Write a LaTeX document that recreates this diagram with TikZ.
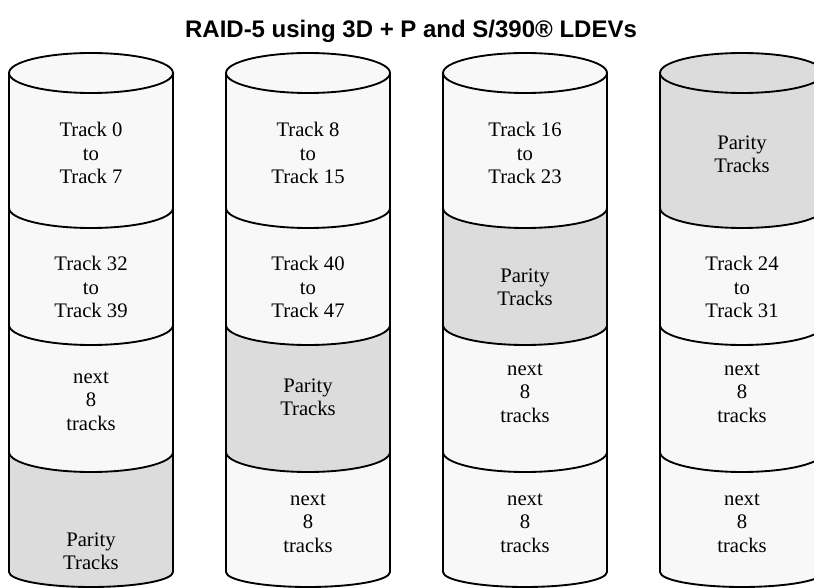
\documentclass[tikz,border=0pt]{standalone}
\usepackage{fontspec}
\setmainfont{Liberation Serif}
\newfontfamily\trackfont{Liberation Serif}
\newfontfamily\titlefont{Liberation Sans}
\usetikzlibrary{positioning}
\definecolor{diskWhite}{RGB}{248, 248, 248}
\definecolor{diskGray}{RGB}{220, 220, 220}
\tikzset{
  diskline/.style={line width=1.4pt, line join=round},
  tracklabel/.style={align=center, inner sep=0pt, font=\trackfont\fontsize{15.5}{17.5}\selectfont},
}

\begin{document}
\begin{tikzpicture}[x=0.75pt, y=-0.75pt]
  \useasboundingbox (0,0) rectangle (814,588);
  \clip (0,0) rectangle (814,588);

  \node[font=\titlefont\bfseries\fontsize{18}{21}\selectfont] (title) at (411,31) {RAID-5 using 3D + P and S/390® LDEVs};

  % the four disks, one colour for each of the four parts
  \foreach \cx/\ca/\cb/\cc/\cd in {91/diskWhite/diskWhite/diskWhite/diskGray,
      308/diskWhite/diskWhite/diskGray/diskWhite,
      525/diskWhite/diskGray/diskWhite/diskWhite,
      742/diskGray/diskWhite/diskWhite/diskWhite} {
    \fill[\ca] (\cx-82,73) arc[start angle=180, end angle=360, x radius=82, y radius=20]
      -- (\cx+82,208) arc[start angle=0, end angle=180, x radius=82, y radius=20] -- cycle;
    \fill[\cb] (\cx-82,208) arc[start angle=180, end angle=0, x radius=82, y radius=20]
      -- (\cx+82,325) arc[start angle=0, end angle=180, x radius=82, y radius=20] -- cycle;
    \fill[\cc] (\cx-82,325) arc[start angle=180, end angle=0, x radius=82, y radius=20]
      -- (\cx+82,452) arc[start angle=0, end angle=180, x radius=82, y radius=20] -- cycle;
    \fill[\cd] (\cx-82,452) arc[start angle=180, end angle=0, x radius=82, y radius=20]
      -- (\cx+82,572) arc[start angle=0, end angle=180, x radius=82, y radius=15] -- cycle;
    % outline
    \draw[diskline] (\cx,73) ellipse[x radius=82, y radius=20];
    \draw[diskline] (\cx-82,73) -- (\cx-82,572)
      arc[start angle=180, end angle=0, x radius=82, y radius=15] -- (\cx+82,73);
    \foreach \dy in {208,325,452}
      \draw[diskline] (\cx-82,\dy) arc[start angle=180, end angle=0, x radius=82, y radius=20];
  }

  % disk 1
  \node[tracklabel] (d1a) at (91,153) {Track 0\\to\\Track 7};
  \node[tracklabel] (d1b) at (91,287) {Track 32\\to\\Track 39};
  \node[tracklabel] (d1c) at (91,401) {next\\8\\tracks};
  \node[tracklabel] (d1d) at (91,551) {Parity\\Tracks};
  % disk 2
  \node[tracklabel] (d2a) at (308,153) {Track 8\\to\\Track 15};
  \node[tracklabel] (d2b) at (308,287) {Track 40\\to\\Track 47};
  \node[tracklabel] (d2c) at (308,397) {Parity\\Tracks};
  \node[tracklabel] (d2d) at (308,523) {next\\8\\tracks};
  % disk 3
  \node[tracklabel] (d3a) at (525,153) {Track 16\\to\\Track 23};
  \node[tracklabel] (d3b) at (525,287) {Parity\\Tracks};
  \node[tracklabel] (d3c) at (525,393) {next\\8\\tracks};
  \node[tracklabel] (d3d) at (525,523) {next\\8\\tracks};
  % disk 4
  \node[tracklabel] (d4a) at (742,154) {Parity\\Tracks};
  \node[tracklabel] (d4b) at (742,287) {Track 24\\to\\Track 31};
  \node[tracklabel] (d4c) at (742,393) {next\\8\\tracks};
  \node[tracklabel] (d4d) at (742,523) {next\\8\\tracks};
\end{tikzpicture}
\end{document}
